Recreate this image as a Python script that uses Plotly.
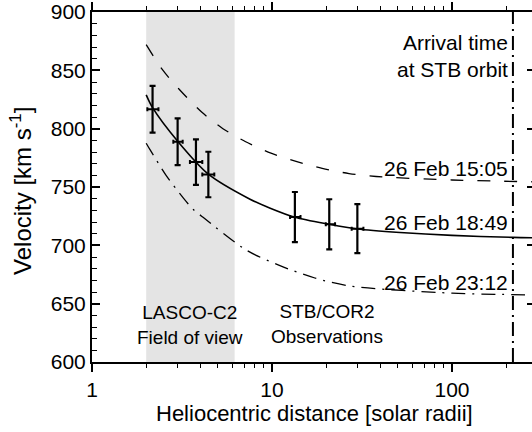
import numpy as np
import plotly.graph_objects as go

# ---- data ----
# fitted velocity profile (solid) and arrival-time envelopes
r_fit = [2.0, 2.17, 3.0, 4.43, 7.55, 9.7, 13.4, 20.8, 29.8, 51.4, 100, 218, 280]
v_fit = [829, 818, 789, 761, 739.5, 732, 724, 718, 714, 711, 708.5, 706.8, 706.5]

r_early = [2.0, 2.45, 3.04, 4.08, 5.34, 7.1, 9.87, 13.6, 19.0, 26.8, 37.9, 100, 184.5, 280]
v_early = [872, 851, 834, 814, 800, 789, 779, 772, 766, 761.5, 759, 756, 755, 754.5]

r_late = [2.0, 2.1, 2.58, 3.22, 3.64, 4.14, 7.18, 10.9, 17.3, 27.5, 100, 177, 280]
v_late = [787.5, 782, 760, 740.5, 731, 724, 696, 683, 672, 665, 659, 658, 657.5]

# observations (LASCO-C2 and STB/COR2)
r_obs = [2.17, 2.99, 3.78, 4.43, 13.4, 20.8, 29.8]
v_obs = [816.6, 788.8, 771.4, 760.7, 724.2, 718.0, 714.3]
r_err_minus = [0.14, 0.16, 0.28, 0.33, 0.8, 0.9, 2.1]
r_err_plus = [0.17, 0.20, 0.32, 0.35, 1.0, 1.6, 2.4]
v_err = [20, 20, 19.5, 19.5, 21.5, 21.5, 21]

# regions / markers
c2_fov = [2.0, 6.2]
r_arrival = 218
y_range = [600, 900]
x_range_log = [0, 2.4444]

curve_labels = ["26 Feb 15:05", "26 Feb 18:49", "26 Feb 23:12"]
label_v = [766, 719.5, 668]

FONT = "Liberation Sans, Arial, Helvetica, sans-serif"
NARROW = "Liberation Sans Narrow, Arial Narrow, Liberation Sans, sans-serif"

fig = go.Figure()

# shaded LASCO-C2 field of view
fig.add_trace(go.Scatter(
    x=[c2_fov[0], c2_fov[1], c2_fov[1], c2_fov[0], c2_fov[0]],
    y=[y_range[0], y_range[0], y_range[1], y_range[1], y_range[0]],
    fill="toself", fillcolor="#e4e4e4", line=dict(width=0),
    mode="lines", hoverinfo="skip", showlegend=False))

# arrival line
fig.add_trace(go.Scatter(
    x=[r_arrival, r_arrival], y=y_range, mode="lines",
    line=dict(color="black", width=2, dash="14px,5px,2px,5px"),
    showlegend=False))

fig.add_trace(go.Scatter(x=r_early, y=v_early, mode="lines",
                         line=dict(color="black", width=1.3, dash="13px,14px",
                                   shape="spline", smoothing=0.8),
                         showlegend=False))
fig.add_trace(go.Scatter(x=r_late, y=v_late, mode="lines",
                         line=dict(color="black", width=1.3, dash="14px,7px,2px,7px",
                                   shape="spline", smoothing=0.8),
                         showlegend=False))
fig.add_trace(go.Scatter(x=r_fit, y=v_fit, mode="lines",
                         line=dict(color="black", width=1.6,
                                   shape="spline", smoothing=0.8),
                         showlegend=False))

fig.add_trace(go.Scatter(
    x=r_obs, y=v_obs, mode="markers",
    marker=dict(size=1, color="black"),
    error_y=dict(type="data", array=v_err, color="black", thickness=2.2, width=3),
    error_x=dict(type="data", array=r_err_plus, arrayminus=r_err_minus,
                 symmetric=False, color="black", thickness=2, width=2),
    showlegend=False))

# invisible trace on right axis
fig.add_trace(go.Scatter(x=[10], y=[700], yaxis="y2", mode="markers",
                         marker=dict(opacity=0), showlegend=False, hoverinfo="skip"))

ann = []
for t, v in zip(curve_labels, label_v):
    ann.append(dict(x=np.log10(r_arrival), y=v, xref="x", yref="y", text=t,
                    showarrow=False, xanchor="right", yanchor="middle",
                    xshift=-3, font=dict(family=FONT, size=21, color="black")))
ann.append(dict(x=np.log10(r_arrival), y=862.5, xref="x", yref="y",
                text="Arrival time<br>at STB orbit", align="right",
                showarrow=False, xanchor="right", yanchor="middle", xshift=-3,
                font=dict(family=FONT, size=21, color="black")))
ann.append(dict(x=(190 - 92) / 440, y=(362 - 325) / 352, xref="paper", yref="paper",
                text="LASCO-C2<br>Field of view", showarrow=False,
                xanchor="center", yanchor="middle",
                font=dict(family=NARROW, size=19, color="black")))
ann.append(dict(x=(327 - 92) / 440, y=(362 - 324) / 352, xref="paper", yref="paper",
                text="STB/COR2<br>Observations", showarrow=False,
                xanchor="center", yanchor="middle",
                font=dict(family=NARROW, size=19, color="black")))
ann.append(dict(x=(314.5 - 92) / 440, y=(362 - 414) / 352, xref="paper", yref="paper",
                text="Heliocentric distance [solar radii]", showarrow=False,
                xanchor="center", yanchor="middle",
                font=dict(family=FONT, size=22, color="black")))
ann.append(dict(x=(21 - 92) / 440, y=(362 - 190) / 352, xref="paper", yref="paper",
                text="Velocity [km s<sup>-1</sup>]", showarrow=False, textangle=-90,
                xanchor="center", yanchor="middle",
                font=dict(family=FONT, size=24, color="black")))

fig.update_layout(
    width=532, height=432,
    margin=dict(l=92, r=0, t=10, b=70),
    paper_bgcolor="white", plot_bgcolor="white",
    showlegend=False,
    annotations=ann,
    shapes=[dict(type="line", xref="paper", yref="paper", x0=0, x1=0,
                 y0=1, y1=1 + 7 / 352, line=dict(color="black", width=2))],
    xaxis=dict(type="log", range=x_range_log, showgrid=False, zeroline=False,
               showline=True, linecolor="black", linewidth=2, mirror="ticks",
               ticks="outside", ticklen=8, tickwidth=1.5, tickcolor="black",
               tickvals=[1, 10, 100], ticktext=["1", "10", "100"],
               minor=dict(ticks="outside", ticklen=4, tickwidth=1.3,
                          tickcolor="black", dtick="D1", showgrid=False),
               tickfont=dict(family=FONT, size=21, color="black")),
    yaxis=dict(range=y_range, showgrid=False, zeroline=False,
               showline=True, linecolor="black", linewidth=2,
               ticks="inside", ticklen=8, tickwidth=1.5, tickcolor="black",
               tickvals=[600, 650, 700, 750, 800, 850, 900],
               ticklabeloverflow="allow",
               minor=dict(ticks="inside", ticklen=5, tickwidth=1.3,
                          tickcolor="black", dtick=10, showgrid=False),
               tickfont=dict(family=FONT, size=21, color="black")),
    yaxis2=dict(overlaying="y", side="right", matches="y", showgrid=False,
                zeroline=False, showline=False, showticklabels=False,
                ticks="inside", ticklen=5, tickwidth=1.5, tickcolor="black",
                tickvals=[650, 700, 750, 800, 850]),
)

fig.write_html("out.html")
